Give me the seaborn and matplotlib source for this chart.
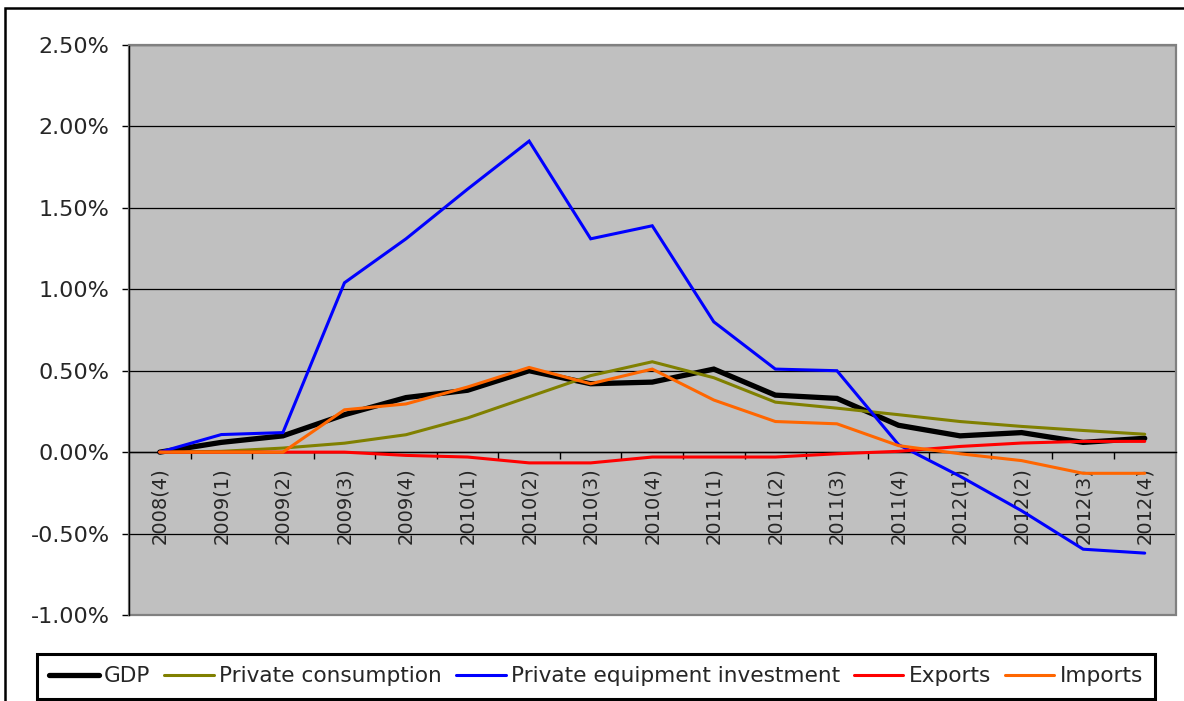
import numpy as np
import pandas as pd
import matplotlib
matplotlib.use("Agg")
import matplotlib.pyplot as plt
import seaborn as sns
from matplotlib.ticker import FuncFormatter, FixedLocator
from matplotlib.patches import Rectangle
from matplotlib.lines import Line2D

quarters = ["2008(4)", "2009(1)", "2009(2)", "2009(3)", "2009(4)", "2010(1)",
            "2010(2)", "2010(3)", "2010(4)", "2011(1)", "2011(2)", "2011(3)",
            "2011(4)", "2012(1)", "2012(2)", "2012(3)", "2012(4)"]

gdp = [0.00, 0.06, 0.10, 0.23, 0.335, 0.38, 0.50, 0.42, 0.43, 0.51, 0.35, 0.33,
       0.165, 0.10, 0.12, 0.06, 0.085]
private_consumption = [0.00, 0.005, 0.025, 0.055, 0.107, 0.21, 0.34, 0.47, 0.555,
                       0.457, 0.307, 0.27, 0.23, 0.188, 0.158, 0.133, 0.11]
private_equipment = [0.00, 0.108, 0.12, 1.04, 1.31, 1.615, 1.91, 1.31, 1.39, 0.80,
                     0.51, 0.50, 0.046, -0.148, -0.36, -0.596, -0.62]
exports = [0.00, 0.00, 0.00, 0.00, -0.02, -0.03, -0.066, -0.066, -0.03, -0.03,
           -0.03, -0.01, 0.005, 0.035, 0.056, 0.066, 0.066]
imports = [0.00, 0.00, 0.00, 0.26, 0.296, 0.40, 0.52, 0.42, 0.51, 0.32, 0.188,
           0.174, 0.04, -0.01, -0.052, -0.13, -0.13]

series_names = ["GDP", "Private consumption", "Private equipment investment",
                "Exports", "Imports"]
series_values = [gdp, private_consumption, private_equipment, exports, imports]
colors = ["#000000", "#808000", "#0000FF", "#FF0000", "#FF6600"]
widths = [3.8, 2.2, 2.2, 2.2, 2.2]

sns.set_style("white")
plt.rcParams["font.family"] = ["DejaVu Sans"]
plt.rcParams["axes.unicode_minus"] = False

fig = plt.figure(figsize=(11.84, 7.01), dpi=100)
ax = fig.add_axes([129 / 1184, 1 - 615 / 701, (1175.5 - 129) / 1184, (615 - 45) / 701])
ax.set_facecolor("#C0C0C0")

idx = np.arange(len(quarters))
for name, vals, c, w in zip(series_names, series_values, colors, widths):
    df = pd.DataFrame({"x": idx, "y": vals})
    sns.lineplot(data=df, x="x", y="y", ax=ax, color=c, linewidth=w, label=name,
                 zorder=3, solid_joinstyle="miter")

ax.set_xlim(-0.5, len(quarters) - 0.5)
ax.set_ylim(-1.0, 2.5)
ax.set_xlabel("")
ax.set_ylabel("")

# y axis
ax.yaxis.set_major_locator(FixedLocator([-1.0, -0.5, 0.0, 0.5, 1.0, 1.5, 2.0, 2.5]))
ax.yaxis.set_major_formatter(FuncFormatter(lambda v, p: f"{v:.2f}%"))
ax.tick_params(axis="y", which="major", direction="out", length=5, width=1,
               color="#000000", pad=9, labelsize=16, left=True)
ax.yaxis.grid(True, color="#000000", linewidth=0.9, zorder=1)
ax.xaxis.grid(False)
ax.set_axisbelow(True)

# x axis at zero
ax.spines["bottom"].set_position(("data", 0))
ax.spines["bottom"].set_color("#000000")
ax.spines["bottom"].set_linewidth(1.0)
ax.set_xticks(idx)
ax.set_xticklabels(quarters, rotation=90, fontsize=14, va="top", ha="center")
ax.xaxis.set_minor_locator(FixedLocator(np.arange(0.5, len(quarters) - 0.5, 1.0)))
ax.tick_params(axis="x", which="major", length=0, pad=11)
ax.tick_params(axis="x", which="minor", direction="out", length=5, width=1,
               color="#000000", bottom=True)
ax.spines["left"].set_color("#000000")
ax.spines["left"].set_linewidth(1.0)
for s in ["top", "right"]:
    ax.spines[s].set_color("#808080")
    ax.spines[s].set_linewidth(1.2)
ax.add_patch(Rectangle((0, 0), 1, 1, transform=ax.transAxes, fill=False,
                       edgecolor="#808080", linewidth=1.6, zorder=2, clip_on=False))

# legend
leg = ax.legend(loc="center", bbox_to_anchor=(596 / 1184, 1 - 676.5 / 701),
                bbox_transform=fig.transFigure, ncol=5, fontsize=15.6,
                frameon=True, fancybox=False, shadow=False,
                handlelength=2.3, handletextpad=0.23, columnspacing=0.64,
                borderpad=0.58, borderaxespad=0)
leg.get_frame().set_edgecolor("#000000")
leg.get_frame().set_linewidth(2.2)
leg.get_frame().set_facecolor("#FFFFFF")
leg.get_frame().set_alpha(1)

# outer chart frame (top and left edges visible; right/bottom cut off)
fx = 5 / 1184
fy = 1 - 7.5 / 701
fig.add_artist(Line2D([fx, fx, 1.05], [-0.05, fy, fy], transform=fig.transFigure,
                      color="#000000", linewidth=1.8, solid_joinstyle="miter",
                      solid_capstyle="butt", clip_on=False))

fig.savefig("out.png", dpi=100, facecolor="white")
